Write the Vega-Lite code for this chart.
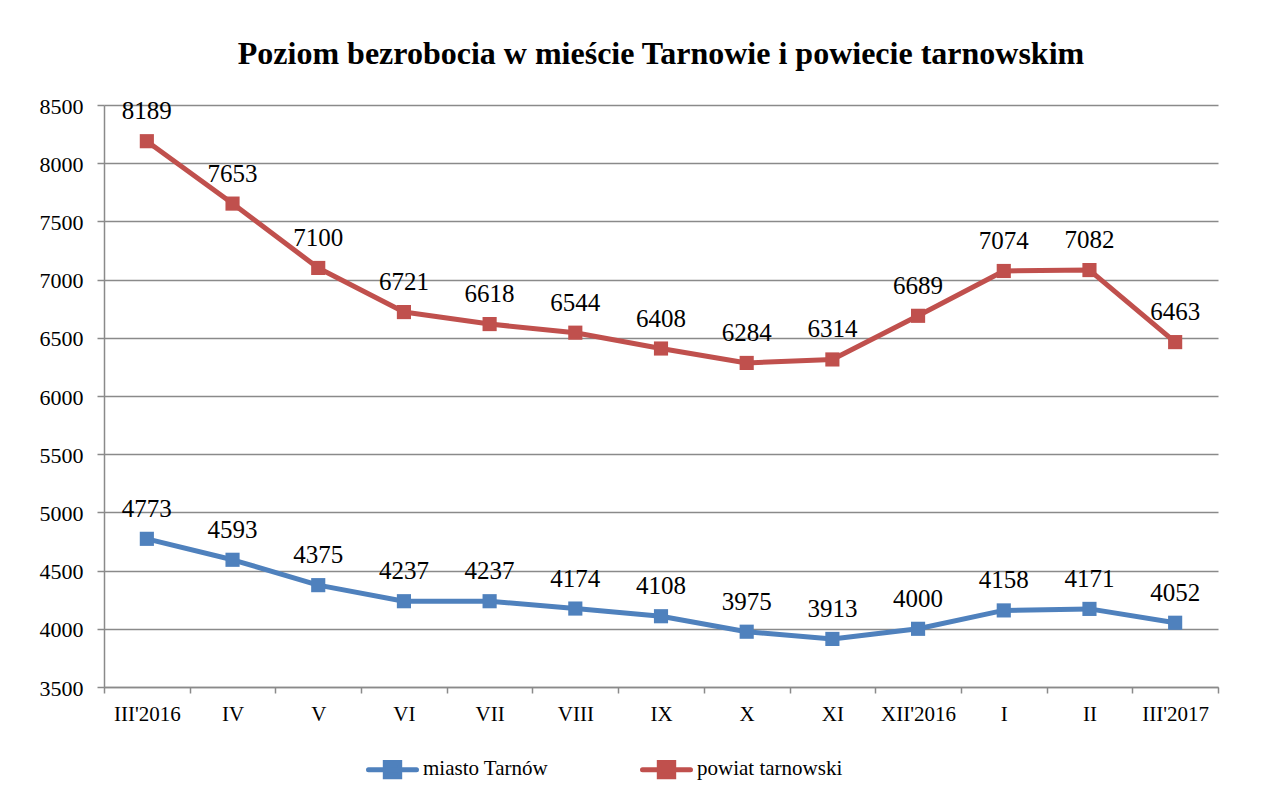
{
  "$schema": "https://vega.github.io/schema/vega-lite/v6.json",
  "width": 1114,
  "height": 582,
  "autosize": {"type": "none"},
  "padding": {"left": 104, "top": 105, "right": 45, "bottom": 118},
  "background": "white",
  "title": {
    "text": "Poziom bezrobocia w mieście Tarnowie i powiecie tarnowskim",
    "font": "Liberation Serif",
    "fontSize": 32,
    "fontWeight": "bold",
    "color": "black",
    "anchor": "middle",
    "offset": 24
  },
  "config": {
    "view": {"stroke": null},
    "axis": {
      "labelColor": "black",
      "domainColor": "#8a8a8a",
      "domainWidth": 1.5,
      "tickColor": "#8a8a8a",
      "tickWidth": 1.5,
      "gridColor": "#8a8a8a",
      "gridWidth": 1.5,
      "title": null
    }
  },
  "data": {
    "values": [
      {"month": "III'2016", "series": "miasto Tarnów", "value": 4773},
      {"month": "IV", "series": "miasto Tarnów", "value": 4593},
      {"month": "V", "series": "miasto Tarnów", "value": 4375},
      {"month": "VI", "series": "miasto Tarnów", "value": 4237},
      {"month": "VII", "series": "miasto Tarnów", "value": 4237},
      {"month": "VIII", "series": "miasto Tarnów", "value": 4174},
      {"month": "IX", "series": "miasto Tarnów", "value": 4108},
      {"month": "X", "series": "miasto Tarnów", "value": 3975},
      {"month": "XI", "series": "miasto Tarnów", "value": 3913},
      {"month": "XII'2016", "series": "miasto Tarnów", "value": 4000},
      {"month": "I", "series": "miasto Tarnów", "value": 4158},
      {"month": "II", "series": "miasto Tarnów", "value": 4171},
      {"month": "III'2017", "series": "miasto Tarnów", "value": 4052},
      {"month": "III'2016", "series": "powiat tarnowski", "value": 8189},
      {"month": "IV", "series": "powiat tarnowski", "value": 7653},
      {"month": "V", "series": "powiat tarnowski", "value": 7100},
      {"month": "VI", "series": "powiat tarnowski", "value": 6721},
      {"month": "VII", "series": "powiat tarnowski", "value": 6618},
      {"month": "VIII", "series": "powiat tarnowski", "value": 6544},
      {"month": "IX", "series": "powiat tarnowski", "value": 6408},
      {"month": "X", "series": "powiat tarnowski", "value": 6284},
      {"month": "XI", "series": "powiat tarnowski", "value": 6314},
      {"month": "XII'2016", "series": "powiat tarnowski", "value": 6689},
      {"month": "I", "series": "powiat tarnowski", "value": 7074},
      {"month": "II", "series": "powiat tarnowski", "value": 7082},
      {"month": "III'2017", "series": "powiat tarnowski", "value": 6463}
    ]
  },
  "encoding": {
    "x": {
      "field": "month",
      "type": "nominal",
      "bandPosition": 0.5,
      "scale": {
        "type": "band",
        "paddingInner": 0,
        "paddingOuter": 0,
        "domain": ["III'2016", "IV", "V", "VI", "VII", "VIII", "IX", "X", "XI", "XII'2016", "I", "II", "III'2017"]
      },
      "axis": {
        "labelAngle": 0,
        "labelFont": "Liberation Serif",
        "labelFontSize": 21,
        "tickBand": "extent",
        "tickSize": 6,
        "labelPadding": 10,
        "grid": false
      }
    },
    "y": {
      "field": "value",
      "type": "quantitative",
      "scale": {"domain": [3500, 8500], "nice": false, "zero": false},
      "axis": {
        "values": [3500, 4000, 4500, 5000, 5500, 6000, 6500, 7000, 7500, 8000, 8500],
        "format": "d",
        "labelFont": "Liberation Serif",
        "labelFontSize": 22,
        "labelBaseline": "top",
        "labelOffset": -9,
        "tickSize": 7,
        "labelPadding": 14,
        "grid": true
      }
    },
    "color": {
      "field": "series",
      "type": "nominal",
      "scale": {"domain": ["miasto Tarnów", "powiat tarnowski"], "range": ["#4F81BD", "#C0504D"]},
      "legend": {
        "title": null,
        "orient": "none",
        "direction": "horizontal",
        "legendX": 262,
        "legendY": 638,
        "labelFont": "Liberation Serif",
        "labelFontSize": 21,
        "labelBaseline": "top",
        "labelColor": "black",
        "labelOffset": 4,
        "columnPadding": 83,
        "symbolType": "M-1,0L1,0M-0.3,-0.3L0.3,-0.3L0.3,0.3L-0.3,0.3Z",
        "symbolSize": 2304,
        "symbolStrokeWidth": 5,
        "encode": {
          "labels": {"update": {"dy": {"value": -12}}},
          "symbols": {
            "update": {
              "fill": {"scale": "color", "field": "value"},
              "stroke": {"scale": "color", "field": "value"},
              "strokeWidth": {"value": 5},
              "strokeCap": {"value": "round"},
              "opacity": {"value": 1}
            }
          }
        }
      }
    }
  },
  "layer": [
    {"mark": {"type": "line", "strokeWidth": 5, "strokeJoin": "round"}},
    {"mark": {"type": "point", "shape": "square", "filled": true, "size": 200, "opacity": 1}},
    {
      "mark": {
        "type": "text",
        "font": "Liberation Serif",
        "fontSize": 25,
        "color": "black",
        "align": "center",
        "baseline": "top",
        "dy": -42
      },
      "encoding": {
        "text": {"field": "value", "type": "quantitative", "format": "d"},
        "color": {"value": "black"}
      }
    }
  ]
}
